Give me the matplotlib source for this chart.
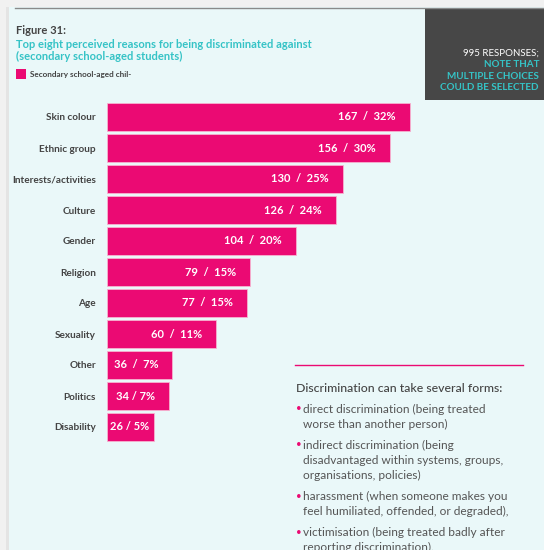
import matplotlib.pyplot as plt
from matplotlib.patches import Rectangle
from matplotlib.lines import Line2D

# data
reasons = ['Skin colour', 'Ethnic group', 'Interests/activities', 'Culture', 'Gender',
           'Religion', 'Age', 'Sexuality', 'Other', 'Politics', 'Disability']
counts = [167, 156, 130, 126, 104, 79, 77, 60, 36, 34, 26]
labels = ['167  /  32%', '156  /  30%', '130  /  25%', '126  /  24%', '104  /  20%',
          '79  /  15%', '77  /  15%', '60  /  11%', '36  /  7%', '34 / 7%', '26 / 5%']

forms = [
    ['direct discrimination (being treated', 'worse than another person)'],
    ['indirect discrimination (being', 'disadvantaged within systems, groups,', 'organisations, policies)'],
    ['harassment (when someone makes you', 'feel humiliated, offended, or degraded),'],
    ['victimisation (being treated badly after', 'reporting discrimination).'],
]

W, H = 544, 550
PINK = '#eb0a73'
TEAL = '#35c3c6'
DARK = '#444444'
plt.rcParams['font.family'] = ['Lato', 'DejaVu Sans']

fig = plt.figure(figsize=(W / 100, H / 100), dpi=100)
fig.patch.set_facecolor('#eaf8f9')


def px(x, y):
    return x / W, 1 - y / H


def rect(x0, y0, x1, y1, color):
    fig.patches.append(Rectangle(px(x0, y1), (x1 - x0) / W, (y1 - y0) / H,
                                 transform=fig.transFigure, color=color, lw=0, zorder=0))


# frame bits
rect(0, 0, W, 7, '#f1f1f1')
rect(0, 0, 6, H, '#f1f1f1')
rect(6, 7, 9, H, '#e4e4e4')
fig.lines.append(Line2D([15 / W, 1], [1 - 7.5 / H] * 2, transform=fig.transFigure,
                        color='#8a8a8a', lw=1))
rect(425, 8, W, 100, '#474747')

# header
fig.text(*px(16, 31), 'Figure 31:', fontsize=8, fontweight='bold', color=DARK, va='center')
fig.text(*px(16, 44), 'Top eight perceived reasons for being discriminated against',
         fontsize=8.05, fontweight='bold', color=TEAL, va='center')
fig.text(*px(16, 56), '(secondary school-aged students)',
         fontsize=8.05, fontweight='bold', color=TEAL, va='center')
rect(16, 69, 26, 79, PINK)
fig.text(*px(30, 74.5), 'Secondary school-aged chil-', fontsize=5.9, fontweight='bold',
         color=DARK, va='center')

fig.text(*px(539, 53), '995 RESPONSES;', fontsize=7, color='white', ha='right', va='center')
for yy, t in zip([64.5, 76.5, 88], ['NOTE THAT', 'MULTIPLE CHOICES', 'COULD BE SELECTED']):
    fig.text(*px(539, yy), t, fontsize=7.1, fontweight='bold', color=TEAL, ha='right', va='center')

# bars
ax = fig.add_axes([107 / W, 1 - 442.5 / H, (W - 107) / W, 341 / H])
ax.patch.set_alpha(0)
scale = 303 / 167  # px per unit
ax.set_xlim(0, (W - 107) / scale)
ax.set_ylim(len(reasons) - 0.5, -0.5)
ypos = list(range(len(reasons)))
ax.barh(ypos, counts, height=0.9, color=PINK, edgecolor='#f7b3d0', linewidth=0.6)
for y, c, lab in zip(ypos, counts, labels):
    pad = min(14, c * scale - 42)
    ax.annotate(lab, (c, y), xytext=(-pad * 0.72, 0), textcoords='offset points',
                ha='right', va='center', color='white', fontsize=8, fontweight='bold')
ax.set_yticks(ypos)
ax.set_yticklabels(reasons, fontsize=7.2, fontweight='bold', color=DARK)
ax.tick_params(axis='y', length=0, pad=8)
ax.set_xticks([])
for s in ax.spines.values():
    s.set_visible(False)

# side note
fig.lines.append(Line2D([295 / W, 523 / W], [1 - 365 / H] * 2, transform=fig.transFigure,
                        color=PINK, lw=1))
fig.text(*px(296, 389), 'Discrimination can take several forms:', fontsize=8.8,
         color=DARK, va='center', fontweight='medium')
y = 409
for item in forms:
    fig.text(*px(296, y), '•', fontsize=7, color=PINK, va='center')
    for line in item:
        fig.text(*px(303, y), line, fontsize=8.6, color='#555555', va='center')
        y += 15
    y += 6

fig.savefig('out.png', dpi=100, facecolor=fig.get_facecolor())
